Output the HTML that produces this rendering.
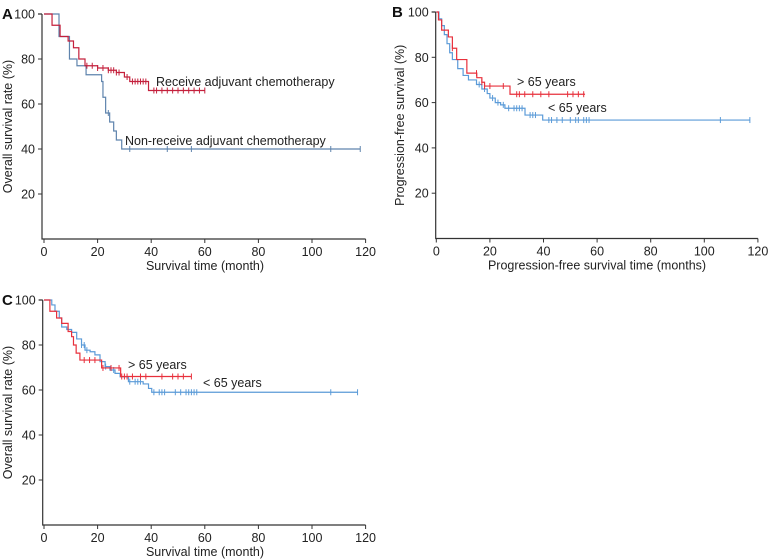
<!DOCTYPE html>
<html><head><meta charset="utf-8">
<style>
html,body{margin:0;padding:0;background:#fff;}
svg{display:block;font-family:"Liberation Sans","DejaVu Sans",sans-serif;}
</style></head>
<body>
<svg id="chart" width="771" height="560" viewBox="0 0 771 560"></svg>
<script>
// Panel A data (month, survival %)
const aReceiveSteps = [[0,100],[3,95],[6,90],[9,88],[11,85],[13,80],[15.3,77],[20,76],[24,75],[27,74],[30,72],[32,70],[39,66],[60,66]];
const aReceiveCensor = [16,18,20,22,24,25,26,27,28,31,33,34,35,36,37,38,41,42,44,46,48,50,52,54,56,58,60];
const aNonSteps = [[0,100],[5.6,90],[9.5,80],[12.3,77],[15.7,73],[21.5,70],[22,63],[23,56],[24.5,52],[26,48],[27,44],[29,40],[118,40]];
const aNonCensor = [24,32,46,55,107,118];
// Panel B
const bOldSteps = [[0,100],[0.8,96.5],[2,92],[4.5,89],[6,84],[7.6,79],[11.4,73],[15.1,71],[17,69],[18,67.3],[27.5,63.7],[55.5,63.7]];
const bOldCensor = [6,15,17,18,20,25,30,31,33,36,39,42,49,51,53,55];
const bYoungSteps = [[0,100],[1,97],[2,94],[3,90],[4,86],[5,82],[6,79],[8,75],[10,72],[12,70],[15,68],[17,66],[19,64],[20,62],[22,60],[24,59],[25.6,57.5],[33.1,54.5],[39.7,52.3],[117,52.3]];
const bYoungCensor = [16,18,21,23,25,27,29,30,31,32,35,36,37,42,43,45,47,50,52,53,55,56,57,106,117];
// Panel C
const cOldSteps = [[0,100],[2.2,95],[4.7,92],[6.6,89.6],[9,86],[10.3,83.7],[11,80],[12,76.4],[13.4,73.3],[21.5,69.8],[28.6,66],[55,66]];
const cOldCensor = [15,17,19,22,25,28,29,30,31,33,36,38,44,48,50,52,55];
const cYoungSteps = [[0,100],[2.9,97.8],[4.1,95],[5.7,92],[6.6,88],[8.5,86.9],[10.3,85.6],[12.2,82.7],[14,80],[15.3,77.7],[17.2,77],[19,75.6],[20.9,72.6],[22.8,70.4],[24.6,68.9],[26.5,67.4],[28.4,65.9],[31.5,63.7],[37,62.7],[39,60.7],[40.2,59],[117,59]];
const cYoungCensor = [14,15,16,23,26,32,34,35,36,41,43,44,45,49,51,53,54,55,56,57,107,117];
const xTicks = [0,20,40,60,80,100,120];
const yTicks = [20,40,60,80,100];

const NS = "http://www.w3.org/2000/svg";
const svg = document.getElementById('chart');
function mk(tag, attrs, parent){const e=document.createElementNS(NS,tag);for(const k in attrs)e.setAttribute(k,attrs[k]);(parent||svg).appendChild(e);return e;}

function panel(p){
  const g = mk('g',{});
  
  
  const X = v => p.x0 + v*p.xs;
  const Y = v => p.y0 - v*p.ys;
  const axTop = Y(100);
  const ax = mk('path',{d:`M${p.axX},${axTop} H${p.axX-4} M${p.axX},${axTop} V${p.y0} H${X(120)}`,stroke:'#333',fill:'none','stroke-width':1.2},g);
  
  
  xTicks.forEach(t=>{
    mk('line',{x1:X(t),x2:X(t),y1:p.y0,y2:p.y0+4,stroke:'#333'},g);
    const tx = mk('text',{x:X(t),y:p.y0+17,'text-anchor':'middle','font-size':12.5,fill:'#222'},g);
    tx.textContent=t;
    
    
  });
  yTicks.forEach(t=>{
    mk('line',{x1:p.axX-4,x2:p.axX,y1:Y(t),y2:Y(t),stroke:'#333'},g);
    const tx = mk('text',{x:p.axX-7,y:Y(t)+4.5,'text-anchor':'end','font-size':12.5,fill:'#222'},g);
    tx.textContent=t;
    
    
  });
  const xl = mk('text',{x:p.xtX,y:p.y0+31,'text-anchor':'middle','font-size':12.5,fill:'#222'},g);
  xl.textContent=p.xt;
  
  
  const yc=(axTop+p.y0)/2;
  const yl = mk('text',{x:p.ytX,y:yc,'text-anchor':'middle','font-size':12.5,fill:'#222',transform:`rotate(-90 ${p.ytX} ${yc})`},g);
  yl.textContent=p.yt;
  
  
  const lt = mk('text',{x:p.letX,y:axTop+5,'font-size':15,'font-weight':'bold',fill:'#111'},g);
  lt.textContent=p.letter;
  
  
  p.series.forEach(s=>{
    let d=`M${X(s.steps[0][0])},${Y(s.steps[0][1])}`;
    for(let i=1;i<s.steps.length;i++){d+=` H${X(s.steps[i][0])} V${Y(s.steps[i][1])}`;}
    const path = mk('path',{d:d,stroke:s.color,fill:'none','stroke-width':1.2},g);
    
    
    const valAt = m => {let v=s.steps[0][1];for(const st of s.steps){if(st[0]<=m)v=st[1];}return v;};
    s.censor.forEach(c=>{
      const cx=X(c), cy=Y(valAt(c));
      const cm = mk('line',{x1:cx,x2:cx,y1:cy-3,y2:cy+3,stroke:s.color,'stroke-width':1},g);
      
      
    });
    const lab = mk('text',{x:s.lx,y:s.ly,'font-size':12.5,fill:'#222'},g);
    lab.textContent=s.label;
    
    
  });
}

panel({name:'panel-a',letter:'A',letX:2,x0:44,xs:2.68,y0:239,ys:2.25,axX:42,
  xt:'Survival time (month)',xtX:205,yt:'Overall survival rate (%)',ytX:12,
  series:[
    {name:'non-receive',steps:aNonSteps,censor:aNonCensor,color:'#5f84ad',label:'Non-receive adjuvant chemotherapy',lx:125,ly:145},
    {name:'receive',steps:aReceiveSteps,censor:aReceiveCensor,color:'#c4203c',label:'Receive adjuvant chemotherapy',lx:156,ly:86}
  ]});
panel({name:'panel-b',letter:'B',letX:392,x0:436.3,xs:2.68,y0:238.5,ys:2.265,axX:435.7,
  xt:'Progression-free survival time (months)',xtX:597,yt:'Progression-free survival (%)',ytX:404,
  series:[
    {name:'under-65',steps:bYoungSteps,censor:bYoungCensor,color:'#5b9bd8',label:'< 65 years',lx:548,ly:112},
    {name:'over-65',steps:bOldSteps,censor:bOldCensor,color:'#e8303c',label:'> 65 years',lx:517,ly:86}
  ]});
panel({name:'panel-c',letter:'C',letX:2,x0:44,xs:2.68,y0:525,ys:2.25,axX:42.7,
  xt:'Survival time (month)',xtX:205,yt:'Overall survival rate (%)',ytX:12,
  series:[
    {name:'under-65',steps:cYoungSteps,censor:cYoungCensor,color:'#5b9bd8',label:'< 65 years',lx:203,ly:387},
    {name:'over-65',steps:cOldSteps,censor:cOldCensor,color:'#e8303c',label:'> 65 years',lx:128,ly:369}
  ]});
</script>
</body></html>
